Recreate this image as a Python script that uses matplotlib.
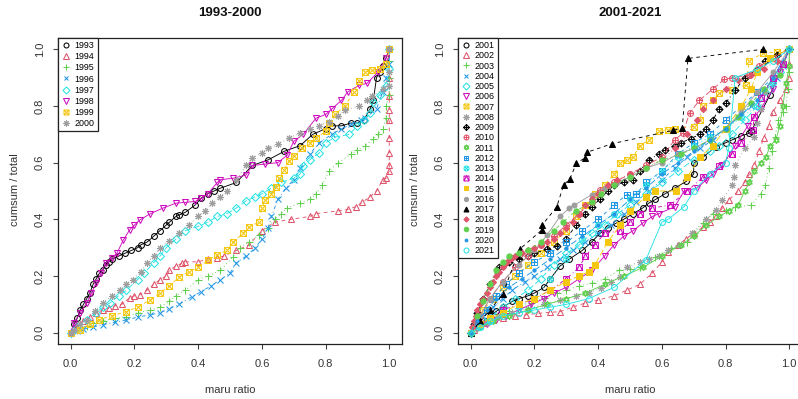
import matplotlib
matplotlib.use("Agg")
import matplotlib.pyplot as plt
import numpy as np
from matplotlib.path import Path
from matplotlib.lines import Line2D

plt.rcParams['font.family'] = ['Liberation Sans', 'DejaVu Sans']

# ---------------------------------------------------------------
# data: (maru ratio, cumsum / total)
# ---------------------------------------------------------------
years_a = ['1993', '1994', '1995', '1996', '1997', '1998', '1999', '2000']
years_b = ['2001', '2002', '2003', '2004', '2005', '2006', '2007', '2008', '2009', '2010', '2011',
           '2012', '2013', '2014', '2015', '2016', '2017', '2018', '2019', '2020', '2021']

p1993 = [(0,0),(.01,.03),(.02,.05),(.03,.08),(.04,.10),(.05,.12),(.06,.14),(.07,.17),(.08,.19),(.09,.21),
         (.10,.22),(.11,.24),(.12,.25),(.13,.26),(.15,.27),(.17,.28),(.19,.29),(.21,.30),(.22,.31),(.24,.32),
         (.26,.34),(.28,.36),(.30,.38),(.31,.39),(.33,.41),(.34,.415),(.36,.425),(.39,.45),(.41,.475),(.43,.49),
         (.45,.50),(.47,.51),(.52,.53),(.57,.59),(.62,.61),(.67,.64),(.72,.66),(.76,.70),(.80,.72),(.82,.73),
         (.85,.73),(.88,.74),(.90,.74),(.92,.75),(.94,.79),(.95,.82),(.96,.90),(.97,.92),(.98,.94),(.99,.97),(1,1)]
p1994 = [(0,0),(.02,.02),(.04,.04),(.06,.055),(.08,.07),(.10,.08),(.12,.088),(.14,.095),(.16,.10),(.185,.123),
         (.20,.13),(.217,.134),(.24,.15),(.26,.17),(.28,.187),(.30,.20),(.31,.22),(.33,.235),(.35,.245),(.36,.25),
         (.40,.25),(.43,.26),(.46,.264),(.48,.27),(.52,.29),(.56,.31),(.60,.36),(.64,.39),(.69,.40),(.75,.41),
         (.77,.42),(.84,.43),(.87,.435),(.895,.445),(.915,.46),(.94,.48),(.96,.50),(.98,.54),(.99,.545),(1,.57),
         (1,.59),(1,.634),(1,.687),(1,.75),(1,.785),(1,.835),(1,.90),(1,1)]
p1995 = [(0,0),(.02,.01),(.05,.025),(.07,.035),(.10,.042),(.14,.05),(.175,.057),(.21,.07),(.25,.08),(.28,.09),
         (.31,.11),(.33,.13),(.36,.15),(.40,.187),(.43,.20),(.47,.22),(.51,.268),(.53,.30),(.56,.32),(.59,.345),
         (.62,.37),(.64,.40),(.66,.42),(.68,.44),(.72,.457),(.75,.47),(.77,.49),(.79,.52),(.81,.57),(.84,.60),
         (.88,.63),(.90,.645),(.925,.66),(.95,.685),(.965,.70),(.98,.72),(.99,.757),(.99,.80),(1,.84),(1,.90),
         (1,.96),(1,1)]
p1996 = [(0,0),(.02,.005),(.04,.012),(.07,.02),(.10,.028),(.14,.037),(.175,.045),(.21,.055),(.25,.063),(.28,.07),
         (.31,.085),(.34,.10),(.38,.127),(.41,.145),(.44,.165),(.47,.187),(.50,.21),(.52,.246),(.55,.27),(.58,.30),
         (.60,.33),(.62,.37),(.63,.41),(.65,.47),(.675,.51),(.70,.54),(.72,.58),(.75,.63),(.78,.67),(.82,.70),
         (.85,.72),(.88,.735),(.91,.75),(.925,.757),(.96,.79),(.98,.85),(.99,.90),(1,.95),(1,1)]
p1997 = [(0,0),(.02,.02),(.05,.045),(.08,.07),(.10,.09),(.123,.105),(.15,.13),(.175,.15),(.21,.187),(.23,.21),
         (.26,.246),(.28,.27),(.30,.30),(.33,.33),(.36,.36),(.40,.375),(.43,.39),(.46,.41),(.49,.42),(.52,.44),
         (.55,.465),(.58,.48),(.60,.49),(.63,.51),(.66,.53),(.70,.545),(.72,.56),(.73,.587),(.75,.61),(.78,.634),
         (.80,.67),(.83,.69),(.875,.70),(.90,.73),(.92,.75),(.94,.775),(.95,.815),(.97,.84),(.99,.87),(1,.93),(1,1)]
p1998 = [(0,0),(.01,.035),(.03,.07),(.05,.105),(.065,.14),(.08,.176),(.095,.21),(.11,.246),(.13,.265),(.145,.28),
         (.165,.327),(.185,.363),(.20,.38),(.217,.398),(.25,.42),(.29,.44),(.33,.457),(.36,.46),(.39,.463),(.41,.475),
         (.43,.49),(.46,.53),(.47,.54),(.51,.545),(.55,.556),(.57,.59),(.61,.595),(.65,.60),(.68,.627),(.70,.675),
         (.73,.70),(.77,.757),(.80,.77),(.82,.79),(.85,.82),(.87,.85),(.905,.873),(.93,.88),(.965,.92),(.99,.97),(1,1)]
p1999 = [(0,0),(.03,.01),(.06,.03),(.09,.046),(.13,.06),(.175,.074),(.21,.09),(.25,.116),(.28,.14),(.31,.165),
         (.34,.197),(.37,.215),(.40,.23),(.43,.255),(.46,.275),(.49,.29),(.51,.32),(.54,.35),(.56,.373),(.59,.39),
         (.60,.44),(.61,.468),(.63,.49),(.645,.515),(.655,.545),(.67,.575),(.685,.605),(.70,.625),(.725,.65),(.75,.67),
         (.77,.687),(.80,.71),(.81,.74),(.83,.77),(.86,.80),(.89,.85),(.905,.887),(.925,.92),(.945,.926),(.97,.93),
         (.99,.95),(1,1)]
p2000 = [(0,0),(.01,.01),(.03,.03),(.05,.046),(.075,.075),(.10,.105),(.13,.13),(.155,.15),(.175,.17),(.195,.187),
         (.22,.215),(.24,.246),(.26,.27),(.28,.30),(.31,.325),(.34,.35),(.37,.38),(.40,.41),(.42,.43),(.445,.457),
         (.47,.48),(.49,.50),(.52,.54),(.55,.59),(.57,.615),(.60,.635),(.62,.65),(.65,.665),(.685,.687),(.72,.705),
         (.75,.72),(.78,.73),(.81,.745),(.84,.765),(.86,.785),(.905,.80),(.93,.82),(.945,.834),(.98,.86),(1,.87),
         (1,.92),(1,1)]

p2001 = [(0,0),(.02,.02),(.04,.04),(.06,.06),(.08,.075),(.10,.09),(.13,.11),(.15,.12),(.18,.13),(.20,.14),
         (.23,.16),(.25,.19),(.28,.235),(.31,.26),(.35,.29),(.38,.32),(.405,.35),(.43,.37),(.457,.387),(.48,.40),
         (.51,.42),(.54,.44),(.56,.458),(.58,.47),(.61,.49),(.64,.51),(.677,.534),(.70,.56),(.70,.598),(.73,.62),
         (.77,.657),(.80,.67),(.82,.68),(.85,.695),(.875,.704),(.88,.71),(.94,.84),(1,1)]
p2002 = [(0,0),(.01,.01),(.02,.02),(.04,.035),(.07,.046),(.10,.053),(.14,.058),(.175,.063),(.21,.068),(.25,.072),
         (.28,.074),(.32,.09),(.36,.105),(.40,.115),(.45,.13),(.49,.15),(.53,.17),(.57,.21),(.60,.25),(.62,.285),
         (.65,.31),(.675,.33),(.70,.35),(.73,.373),(.75,.39),(.77,.41),(.79,.44),(.81,.468),(.84,.50),(.86,.53),
         (.875,.56),(.89,.59),(.905,.64),(.92,.687),(.935,.73),(.95,.78),(.97,.82),(.99,.86),(1,.90),(1,.95),(1,1)]
p2003 = [(0,0),(.02,.015),(.05,.035),(.08,.055),(.12,.075),(.155,.09),(.19,.105),(.23,.123),(.27,.14),(.30,.15),
         (.34,.165),(.38,.175),(.42,.19),(.467,.22),(.50,.225),(.53,.232),(.58,.267),(.63,.30),(.68,.32),(.70,.35),
         (.73,.387),(.76,.42),(.80,.433),(.83,.444),(.88,.45),(.91,.49),(.925,.52),(.935,.58),(.945,.64),(.955,.69),
         (.965,.75),(.98,.78),(.99,.80),(.995,.86),(1,.92),(1,1)]
p2004 = [(0,0),(.02,.03),(.04,.06),(.07,.09),(.10,.12),(.13,.15),(.17,.18),(.20,.20),(.24,.23),(.28,.26),
         (.32,.29),(.36,.32),(.40,.35),(.44,.38),(.48,.42),(.52,.46),(.56,.50),(.60,.54),(.64,.58),(.68,.62),
         (.72,.65),(.76,.68),(.80,.72),(.84,.76),(.88,.80),(.92,.85),(.96,.90),(.98,.94),(1,1)]
p2005 = [(0,0),(.02,.02),(.04,.04),(.07,.06),(.10,.09),(.14,.12),(.18,.15),(.22,.19),(.26,.24),(.30,.28),
         (.34,.31),(.38,.35),(.42,.38),(.46,.42),(.50,.45),(.55,.49),(.60,.53),(.65,.57),(.70,.61),(.75,.64),
         (.78,.66),(.82,.70),(.86,.75),(.90,.80),(.94,.86),(.97,.92),(1,1)]
p2006 = [(0,0),(.02,.015),(.05,.03),(.08,.045),(.11,.06),(.15,.08),(.19,.10),(.23,.12),(.26,.14),(.30,.16),
         (.34,.19),(.38,.22),(.42,.27),(.45,.31),(.48,.34),(.51,.36),(.54,.387),(.57,.41),(.59,.42),(.64,.444),
         (.67,.50),(.71,.51),(.74,.54),(.76,.56),(.79,.59),(.83,.66),(.87,.73),(.91,.79),(.95,.86),(.97,.92),(1,1)]
p2007 = [(0,0),(.02,.04),(.04,.08),(.07,.12),(.10,.16),(.14,.20),(.18,.24),(.22,.28),(.26,.32),(.30,.36),
         (.33,.41),(.36,.45),(.39,.49),(.42,.52),(.45,.56),(.47,.60),(.49,.61),(.51,.62),(.53,.66),(.56,.68),
         (.59,.71),(.62,.715),(.64,.72),(.70,.727),(.72,.75),(.73,.80),(.76,.82),(.78,.845),(.82,.857),(.864,.874),
         (.875,.96),(.917,.986),(.96,.99),(1,1)]
p2008 = [(0,0),(.02,.015),(.05,.035),(.09,.055),(.13,.07),(.18,.085),(.23,.10),(.28,.115),(.33,.13),(.37,.14),
         (.41,.158),(.44,.18),(.47,.197),(.49,.232),(.53,.25),(.56,.26),(.59,.27),(.62,.29),(.655,.31),(.695,.352),
         (.74,.40),(.77,.433),(.79,.468),(.82,.52),(.825,.55),(.83,.59),(.86,.65),(.89,.69),(.90,.74),(.91,.79),
         (.925,.85),(.95,.90),(.98,.95),(1,1)]
p2009 = [(0,0),(.01,.03),(.02,.07),(.04,.12),(.06,.17),(.09,.23),(.12,.25),(.15,.26),(.18,.27),(.20,.28),
         (.24,.295),(.27,.305),(.30,.33),(.33,.38),(.36,.42),(.38,.445),(.405,.47),(.43,.50),(.45,.52),(.48,.53),
         (.51,.54),(.53,.57),(.56,.61),(.59,.63),(.61,.645),(.64,.66),(.66,.67),(.69,.685),(.72,.70),(.74,.72),
         (.76,.75),(.78,.79),(.80,.81),(.83,.855),(.86,.90),(.90,.93),(.925,.96),(.96,.98),(1,1)]
p2010 = [(0,0),(.03,.06),(.06,.12),(.10,.18),(.14,.23),(.18,.27),(.22,.31),(.26,.34),(.30,.38),(.34,.42),
         (.38,.46),(.405,.505),(.45,.53),(.50,.56),(.55,.59),(.60,.62),(.64,.68),(.666,.704),(.687,.775),(.718,.82),
         (.76,.86),(.796,.894),(.82,.90),(.875,.91),(.906,.94),(.95,.97),(1,1)]
p2011 = [(0,0),(.03,.02),(.07,.04),(.12,.06),(.18,.08),(.24,.10),(.30,.12),(.36,.14),(.42,.17),(.48,.20),
         (.54,.23),(.60,.27),(.66,.31),(.70,.34),(.74,.38),(.78,.41),(.81,.43),(.84,.45),(.86,.50),(.875,.53),
         (.89,.57),(.91,.60),(.927,.62),(.94,.66),(.958,.68),(.97,.73),(.98,.80),(.99,.88),(1,.94),(1,1)]
p2012 = [(0,0),(.02,.03),(.05,.08),(.08,.13),(.11,.17),(.15,.21),(.20,.25),(.25,.28),(.30,.32),(.35,.36),
         (.40,.40),(.45,.45),(.49,.487),(.52,.49),(.55,.53),(.60,.57),(.65,.63),(.70,.67),(.75,.70),(.80,.75),
         (.85,.80),(.90,.85),(.95,.90),(1,1)]
p2013 = [(0,0),(.03,.02),(.06,.04),(.10,.07),(.15,.09),(.20,.12),(.25,.19),(.30,.26),(.35,.33),(.40,.38),
         (.45,.42),(.50,.47),(.55,.52),(.60,.57),(.65,.62),(.70,.66),(.75,.69),(.80,.72),(.85,.76),(.90,.80),
         (.95,.88),(1,1)]
p2014 = [(0,0),(.03,.03),(.06,.05),(.10,.08),(.15,.10),(.20,.12),(.25,.15),(.30,.19),(.34,.23),(.36,.27),
         (.39,.31),(.42,.35),(.47,.36),(.50,.39),(.53,.42),(.57,.44),(.625,.45),(.68,.50),(.73,.55),(.78,.587),
         (.82,.63),(.85,.67),(.885,.715),(.89,.76),(.91,.83),(.95,.90),(.98,.95),(1,1)]
p2015 = [(0,0),(.03,.03),(.06,.05),(.10,.07),(.15,.10),(.20,.12),(.25,.15),(.30,.18),(.34,.20),(.37,.215),
         (.39,.24),(.43,.32),(.47,.38),(.50,.43),(.55,.48),(.58,.50),(.645,.50),(.68,.55),(.72,.62),(.76,.66),
         (.80,.72),(.85,.80),(.88,.86),(.90,.92),(.94,.97),(1,1)]
p2016 = [(0,0),(.03,.06),(.06,.12),(.10,.18),(.15,.24),(.20,.29),(.24,.345),(.28,.41),(.31,.44),(.325,.45),
         (.38,.487),(.42,.51),(.46,.53),(.50,.55),(.55,.58),(.60,.60),(.65,.63),(.70,.65),(.75,.68),(.80,.72),
         (.85,.78),(.90,.85),(.95,.92),(1,1)]
p2017 = [(0,0),(.03,.04),(.06,.08),(.10,.135),(.145,.27),(.155,.296),(.225,.364),(.225,.381),(.27,.444),(.292,.522),
         (.311,.542),(.332,.599),(.358,.616),(.366,.637),(.444,.667),(.635,.714),(.664,.722),(.682,.968),(.916,1.0)]
p2018 = [(0,0),(.005,.02),(.01,.04),(.015,.06),(.02,.08),(.03,.10),(.04,.12),(.05,.14),(.06,.16),(.07,.18),
         (.08,.20),(.09,.215),(.10,.23),(.11,.245),(.12,.255),(.13,.265),(.14,.27),(.16,.28),(.18,.29),(.20,.30),
         (.22,.31),(.24,.32),(.26,.33),(.28,.35),(.30,.37),(.32,.39),(.34,.42),(.36,.45),(.38,.47),(.40,.49),
         (.43,.52),(.46,.54),(.50,.56),(.55,.58),(.60,.61),(.64,.65),(.68,.70),(.71,.75),(.73,.79),(.76,.82),
         (.80,.86),(.84,.89),(.88,.91),(.92,.93),(.96,.96),(1,1)]
p2019 = [(0,0),(.02,.06),(.04,.11),(.06,.17),(.08,.22),(.10,.25),(.12,.27),(.15,.28),(.18,.29),(.22,.32),
         (.26,.36),(.29,.39),(.33,.43),(.38,.46),(.41,.49),(.45,.52),(.50,.55),(.55,.58),(.60,.61),(.66,.63),
         (.70,.65),(.75,.68),(.80,.72),(.84,.76),(.88,.81),(.92,.86),(.97,.91),(1,1)]
p2020 = [(0,0),(.02,.04),(.05,.08),(.08,.12),(.12,.16),(.16,.19),(.20,.22),(.25,.26),(.30,.30),(.35,.34),
         (.40,.38),(.45,.42),(.50,.47),(.55,.51),(.60,.56),(.65,.60),(.70,.64),(.75,.68),(.80,.72),(.85,.77),
         (.90,.82),(.95,.90),(1,1)]
p2021 = [(0,0),(.03,.02),(.06,.04),(.10,.06),(.15,.07),(.20,.08),(.25,.09),(.30,.10),(.37,.12),(.45,.16),
         (.55,.257),(.60,.39),(.62,.40),(.67,.445),(.70,.50),(.75,.56),(.80,.60),(.81,.65),(.83,.90),(.90,.93),
         (.95,.96),(1,1)]

pts_a = [p1993, p1994, p1995, p1996, p1997, p1998, p1999, p2000]
pts_b = [p2001, p2002, p2003, p2004, p2005, p2006, p2007, p2008, p2009, p2010, p2011,
         p2012, p2013, p2014, p2015, p2016, p2017, p2018, p2019, p2020, p2021]

# R 4 default palette
palette = ["#000000", "#DF536B", "#61D04F", "#2297E6", "#28E2E5", "#CD0BBC", "#F5C710", "#9E9E9E"]
ltys = ['-', (0, (4, 4)), (0, (1, 3)), (0, (1, 3, 4, 3)), (0, (7, 3))]


#-----------------------------------------------------------------------
# R pch symbols
#-----------------------------------------------------------------------
def seg_path(segs):
    verts, codes = [], []
    for s in segs:
        for i, p in enumerate(s):
            verts.append(p)
            codes.append(Path.MOVETO if i == 0 else Path.LINETO)
    return Path(verts, codes)

SQ = [(-1, -1), (1, -1), (1, 1), (-1, 1), (-1, -1)]
circ = Path.unit_circle()
c7 = 0.707

def pch_marker(pch):
    # returns marker, filled?, size factor
    if pch == 1 or pch == 21:
        return 'o', False, 1.0
    if pch == 2:
        return '^', False, 1.1
    if pch == 3:
        return '+', False, 1.2
    if pch == 4:
        return 'x', False, 1.0
    if pch == 5:
        return 'D', False, 1.0
    if pch == 6:
        return 'v', False, 1.1
    if pch == 7:
        return seg_path([SQ, [(-1, -1), (1, 1)], [(-1, 1), (1, -1)]]), False, 1.0
    if pch == 8:
        return (8, 2, 0), False, 1.2
    if pch == 9:
        return seg_path([[(0, 1), (1, 0), (0, -1), (-1, 0), (0, 1)], [(-1, 0), (1, 0)], [(0, -1), (0, 1)]]), False, 1.2
    if pch == 10:
        return Path.make_compound_path(circ, seg_path([[(-1, 0), (1, 0)], [(0, -1), (0, 1)]])), False, 1.0
    if pch == 11:
        return seg_path([[(0, 1), (.866, -.5), (-.866, -.5), (0, 1)],
                         [(0, -1), (.866, .5), (-.866, .5), (0, -1)]]), False, 1.1
    if pch == 12:
        return seg_path([SQ, [(-1, 0), (1, 0)], [(0, -1), (0, 1)]]), False, 1.0
    if pch == 13:
        return Path.make_compound_path(circ, seg_path([[(-c7, -c7), (c7, c7)], [(-c7, c7), (c7, -c7)]])), False, 1.0
    if pch == 14:
        return seg_path([SQ, [(-1, -1), (0, 1), (1, -1)]]), False, 1.0
    if pch == 15:
        return 's', True, 0.9
    if pch == 16:
        return 'o', True, 0.85
    if pch == 17:
        return '^', True, 1.0
    if pch == 18:
        return 'D', True, 0.75
    if pch == 19:
        return 'o', True, 0.9
    if pch == 20:
        return 'o', True, 0.55
    return 'o', False, 1.0


MS = 4.2
LW = 0.65

def draw_panel(ax, years, pts, spacing):
    handles = []
    for i, (yr, p) in enumerate(zip(years, pts)):
        col = palette[i % 8]
        mk, filled, f = pch_marker(i + 1)
        xs = [q[0] for q in p]
        ys = [q[1] for q in p]
        ax.plot(xs, ys, color=col, lw=LW, linestyle=ltys[i % 5], marker=mk,
                markersize=MS * f, markeredgewidth=0.75, markeredgecolor=col,
                markerfacecolor=col if filled else 'none', zorder=2 + i * 0.01)
        handles.append(Line2D([], [], linestyle='none', marker=mk, color=col,
                              markersize=MS * f * 0.85, markeredgewidth=0.75,
                              markerfacecolor=col if filled else 'none', label=yr))
    ax.set_xlim(-0.04, 1.04)
    ax.set_ylim(-0.04, 1.04)
    ticks = [0, 0.2, 0.4, 0.6, 0.8, 1.0]
    ax.set_xticks(ticks)
    ax.set_yticks(ticks)
    ax.set_xticklabels(['%.1f' % t for t in ticks])
    ax.set_yticklabels(['%.1f' % t for t in ticks], rotation=90, va='center')
    ax.tick_params(axis='both', length=3.6, width=0.8, labelsize=8, color='#444444', labelcolor='#333333')
    ax.tick_params(axis='x', pad=7)
    ax.tick_params(axis='y', pad=6)
    for s in ax.spines.values():
        s.set_linewidth(0.9)
        s.set_color('#222222')
    leg = ax.legend(handles=handles, loc='upper left', borderaxespad=0, fontsize=6.4,
                    handlelength=1.0, handletextpad=0.5, labelspacing=spacing, borderpad=0.35,
                    fancybox=False, framealpha=1, edgecolor='#222222')
    leg.get_frame().set_linewidth(0.9)
    leg.set_zorder(10)


fig = plt.figure(figsize=(7.98, 3.99), dpi=100)
H = 399.0
W = 798.0
ax1 = fig.add_axes([58 / W, 1 - 344 / H, 344 / W, 306 / H])
ax2 = fig.add_axes([458 / W, 1 - 344 / H, 344 / W, 306 / H])

draw_panel(ax1, years_a, pts_a, 0.24)
draw_panel(ax2, years_b, pts_b, 0.14)

for cx, t in [(230, '1993-2000'), (630, '2001-2021')]:
    fig.text(cx / W, 1 - 13 / H, t, ha='center', va='center', fontsize=9.5, fontweight='bold', color='#111111')
    fig.text(cx / W, 1 - 390 / H, 'maru ratio', ha='center', va='center', fontsize=8, color='#333333')
for lx in [15, 415]:
    fig.text(lx / W, 1 - 190 / H, 'cumsum / total', ha='center', va='center', rotation=90,
             fontsize=8, color='#333333')

fig.savefig('out.png', dpi=100)
